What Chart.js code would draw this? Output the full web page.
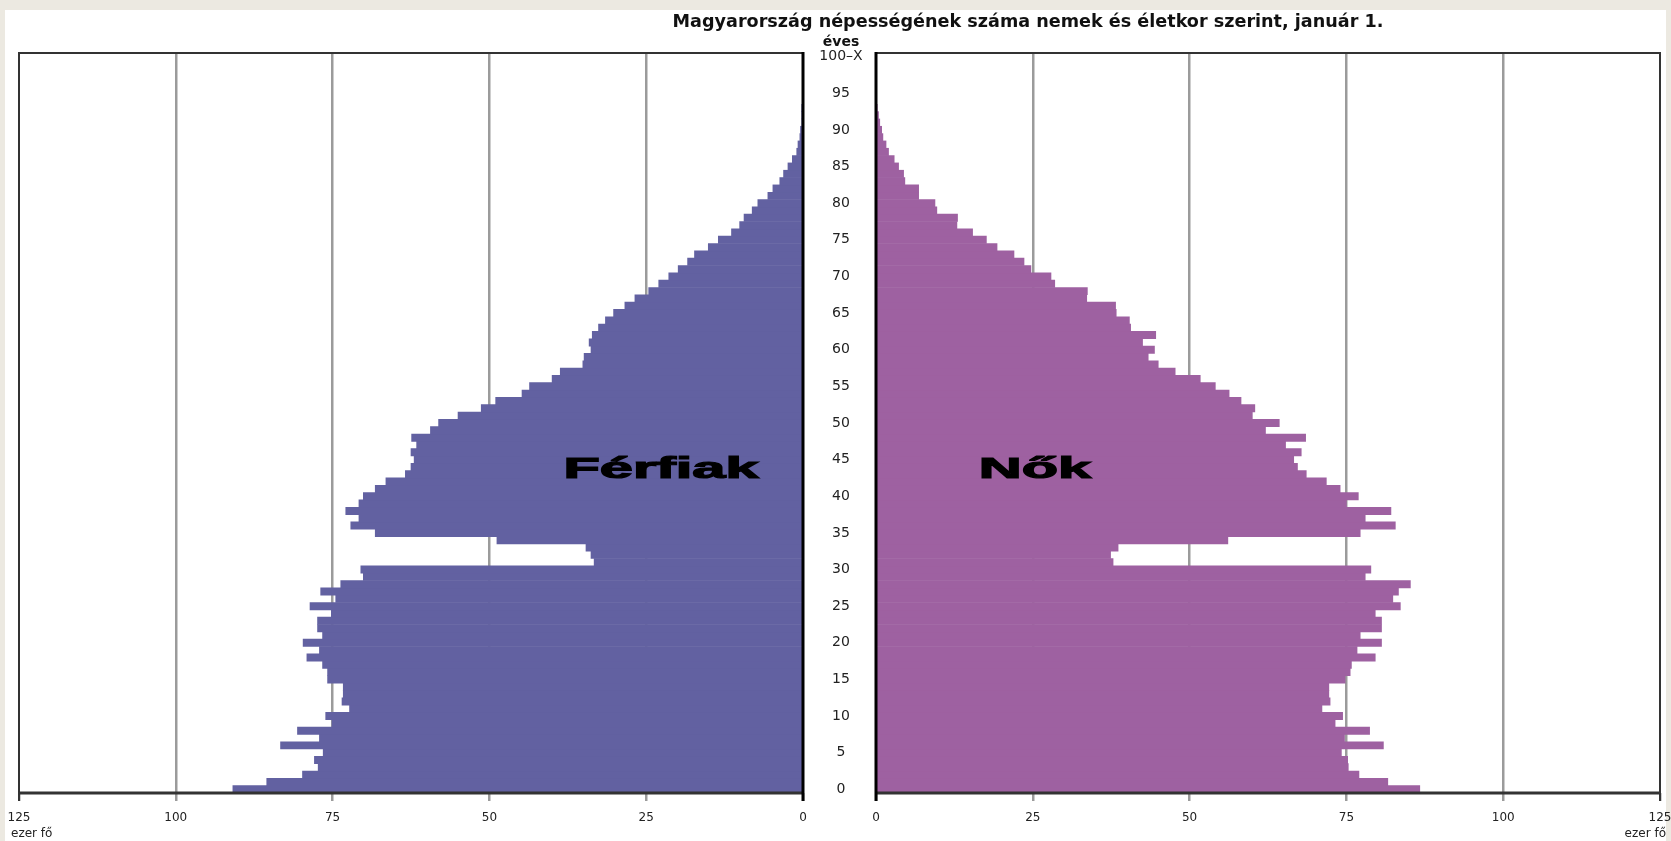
<!DOCTYPE html>
<html>
<head>
<meta charset="utf-8">
<script src="https://cdn.jsdelivr.net/npm/chart.js@4"></script>
<style>
  html, body { margin: 0; padding: 0; }
  body { width: 1671px; height: 841px; background: #ece9e1; position: relative; overflow: hidden;
         font-family: "DejaVu Sans", Verdana, sans-serif; color: #111; }
  #card { position: absolute; left: 5px; top: 10px; width: 1661px; height: 831px; background: #fff; }
  .box { position: absolute; top: 0; height: 841px; }
  #leftBox { left: 0; width: 812px; }
  #rightBox { left: 803px; width: 882px; }
  .txt { position: absolute; white-space: nowrap; }
  #title { left: 1028px; top: 12px; transform: translateX(-50%); font-size: 17.6px; line-height: 18px; font-weight: bold; }
  #eves { left: 841px; top: 34px; transform: translateX(-50%); font-size: 14px; line-height: 14px; font-weight: bold; }
  .unit { top: 827px; font-size: 12px; line-height: 12px; color: #222; }
  .sex { top: 454px; font-family: "Liberation Sans", Arial, sans-serif; font-weight: bold; font-size: 29px; line-height: 29px;
         transform: translateX(-50%) scaleX(2.05); -webkit-text-stroke: 1.2px #000; color: #000; }
</style>
</head>
<body>
<div id="card"></div>
<div class="box" id="leftBox"><canvas id="bal"></canvas></div>
<div class="box" id="rightBox"><canvas id="jobb"></canvas></div>
<div class="txt" id="title">Magyarország népességének száma nemek és életkor szerint, január 1.</div>
<div class="txt" id="eves">éves</div>
<div class="txt unit" style="left:11px">ezer fő</div>
<div class="txt unit" style="right:5px">ezer fő</div>
<div class="txt sex" style="left:661px">Férfiak</div>
<div class="txt sex" style="left:1035px">Nők</div>
<script>
// korcsoportok (0 ... 99, 100-X)
const ageLabels = Array.from({length: 100}, (_, i) => String(i)).concat(['100–X']);

// ezer fő, 0 évestől felfelé
const ferfiak = [
  90.9, 85.5, 79.8, 77.3, 77.9, 76.5, 83.3, 77.1, 80.6, 75.1,
  76.1, 72.3, 73.5, 73.3, 73.3, 75.8, 75.8, 76.6, 79.1, 77.1,
  79.7, 76.6, 77.4, 77.4, 75.2, 78.6, 74.5, 76.9, 73.7, 70.1,
  70.5, 33.3, 33.8, 34.6, 48.8, 68.2, 72.1, 70.8, 72.9, 70.8,
  70.1, 68.2, 66.5, 63.4, 62.5, 62.0, 62.5, 61.6, 62.4, 59.4,
  58.1, 55.0, 51.3, 49.0, 44.8, 43.6, 40.0, 38.7, 35.1, 34.9,
  33.8, 34.1, 33.6, 32.6, 31.5, 30.2, 28.4, 26.8, 24.6, 23.0,
  21.4, 19.9, 18.4, 17.3, 15.1, 13.5, 11.4, 10.1, 9.4, 8.1,
  7.2, 5.6, 4.8, 3.7, 3.1, 2.4, 1.7, 1.0, 0.8, 0.5,
  0.4, 0.2, 0.1, 0.05, 0, 0, 0, 0, 0, 0,
  0
];
const nok = [
  86.7, 81.6, 77.0, 75.3, 75.2, 74.2, 80.9, 74.7, 78.7, 73.2,
  74.4, 71.1, 72.4, 72.2, 72.2, 74.8, 75.6, 75.8, 79.6, 76.7,
  80.6, 77.2, 80.6, 80.6, 79.6, 83.6, 82.4, 83.3, 85.2, 78.0,
  78.9, 37.8, 37.4, 38.6, 56.1, 77.2, 82.8, 78.0, 82.1, 75.0,
  76.9, 74.0, 71.8, 68.6, 67.2, 66.6, 67.8, 65.3, 68.5, 62.1,
  64.3, 60.0, 60.4, 58.2, 56.3, 54.1, 51.7, 47.7, 45.0, 43.4,
  44.4, 42.5, 44.6, 40.6, 40.4, 38.3, 38.2, 33.6, 33.7, 28.5,
  27.9, 24.7, 23.6, 22.0, 19.3, 17.6, 15.4, 12.9, 13.0, 9.7,
  9.4, 6.8, 6.8, 4.6, 4.4, 3.6, 2.9, 2.0, 1.6, 1.1,
  0.9, 0.6, 0.4, 0.2, 0, 0, 0, 0, 0, 0,
  0
];

const xMax = 125;
const xStep = 25;
const labelEvery = 5;

// lineHeight tolja lejjebb az x feliratokat (a padding vízszintesen is számítana)
const font = { family: '"DejaVu Sans", Verdana, sans-serif', size: 12, lineHeight: 2.5 };
const yFont = { family: '"DejaVu Sans", Verdana, sans-serif', size: 14 };

// y feliratok középre a két panel között
const m = document.createElement('canvas').getContext('2d');
m.font = '14px "DejaVu Sans"';
const yPad = 35 - m.measureText('100–X').width / 2;

function gridColor(c) {
  const v = c.tick ? c.tick.value : null;
  return (v === 0 || v === xMax) ? 'rgba(0,0,0,0)' : '#9b9b9b';
}

const frame = {
  id: 'frame',
  afterDraw(chart) {
    const { ctx, chartArea: a } = chart;
    const x0 = chart.scales.x.getPixelForValue(0);
    const xm = chart.scales.x.getPixelForValue(xMax);
    ctx.save();
    ctx.strokeStyle = '#333';
    ctx.lineWidth = 2;
    ctx.beginPath();
    ctx.moveTo(xm, a.bottom + 8); ctx.lineTo(xm, a.top); ctx.lineTo(x0, a.top);
    ctx.stroke();
    ctx.lineWidth = 3;
    ctx.beginPath();
    ctx.moveTo(a.left - 1, a.bottom); ctx.lineTo(a.right + 1, a.bottom);
    ctx.stroke();
    ctx.strokeStyle = '#000';
    ctx.beginPath();
    ctx.moveTo(x0, a.top - 1); ctx.lineTo(x0, a.bottom + 8);
    ctx.stroke();
    ctx.restore();
  }
};

function xScale(rev) {
  return {
    min: 0, max: xMax, reverse: rev, z: 1,
    afterFit: s => { s.height = 48; },
    ticks: { stepSize: xStep, font, color: '#222', padding: 2, maxRotation: 0 },
    grid: { color: gridColor, lineWidth: 2.5, tickLength: 8, tickColor: '#9b9b9b' },
    border: { display: false }
  };
}

new Chart('bal', {
  type: 'bar',
  data: {
    labels: ageLabels,
    datasets: [{ label: 'Férfiak', data: ferfiak, backgroundColor: '#6261a1',
                 categoryPercentage: 1, barPercentage: 1, borderWidth: 0 }]
  },
  options: {
    indexAxis: 'y', responsive: true, maintainAspectRatio: false, animation: false,
    layout: { padding: { left: 19, right: 9, top: 53, bottom: 0 } },
    plugins: { legend: { display: false }, tooltip: { enabled: false } },
    scales: {
      x: xScale(true),
      y: { display: false, reverse: true }
    }
  },
  plugins: [frame]
});

new Chart('jobb', {
  type: 'bar',
  data: {
    labels: ageLabels,
    datasets: [{ label: 'Nők', data: nok, backgroundColor: '#9e61a1',
                 categoryPercentage: 1, barPercentage: 1, borderWidth: 0 }]
  },
  options: {
    indexAxis: 'y', responsive: true, maintainAspectRatio: false, animation: false,
    layout: { padding: { left: 0, right: 25, top: 53, bottom: 0 } },
    plugins: { legend: { display: false }, tooltip: { enabled: false } },
    scales: {
      x: xScale(false),
      y: {
        reverse: true,
        afterFit: s => { s.width = 73; },
        grid: { display: false, drawTicks: false },
        border: { display: false },
        ticks: {
          autoSkip: false, font: yFont, color: '#222', crossAlign: 'center', padding: yPad,
          callback: function (v, i) { return i % labelEvery === 0 ? this.getLabelForValue(v) : ''; }
        }
      }
    }
  },
  plugins: [frame]
});
</script>
</body>
</html>
